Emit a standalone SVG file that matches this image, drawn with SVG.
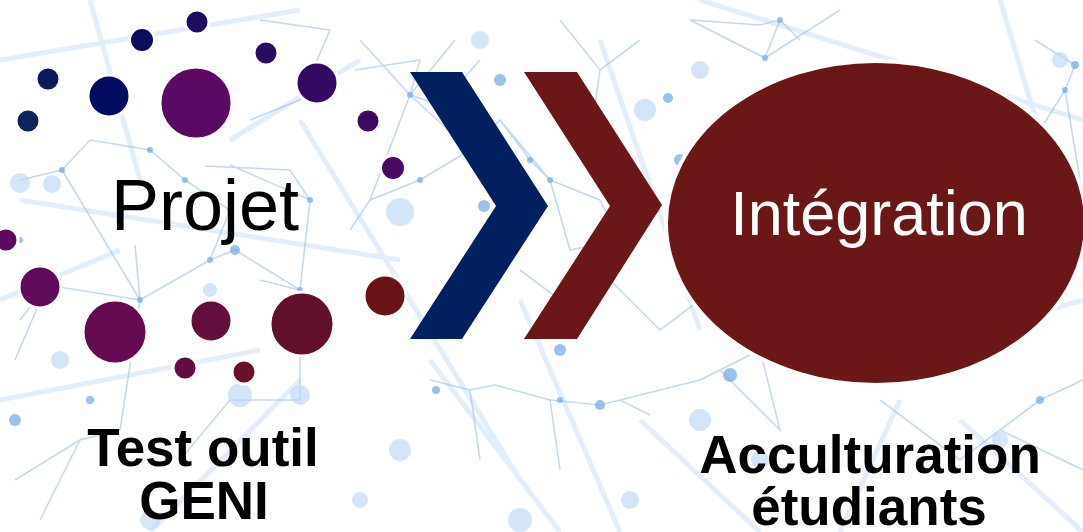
<svg xmlns="http://www.w3.org/2000/svg" width="1083" height="532" viewBox="0 0 1083 532">
<style>
.bgl{stroke:#8fbbe8;stroke-width:1.6;fill:none;opacity:0.55}
.bgw{stroke:#cfe2f6;stroke-width:5;fill:none;opacity:0.6}
.bgd{fill:#6fa9e6;opacity:0.7}
.bgb{fill:#b9d5f2;opacity:0.6}
.dot{stroke:#ffffff;stroke-width:3}
.lbl{font-family:"Liberation Sans",Arial,sans-serif;font-weight:bold;fill:#000000;text-anchor:middle}
</style>
<rect width="1083" height="532" fill="#ffffff"/>
<g id="background">
<g class="bgw">
<path d="M0 60 L300 10 M20 200 L400 260 M90 0 L140 180 M300 120 L520 480 M430 360 L560 532 M600 40 L700 330 M700 0 L1083 120 M820 380 L1083 300 M0 400 L260 350 M150 532 L300 380 M520 300 L620 532 M960 420 L1083 532 M230 140 L360 60 M1000 0 L1060 200 M0 300 L120 250 M640 420 L760 532 M840 532 L900 400"/>
</g>
<g class="bgl">
<path d="M62 170 L140 300 L47 285 L20 320 M140 300 L210 260 L235 250 L300 290 M90 140 L150 150 L185 180 L230 210 L210 260 M62 170 L90 140 M135 245 L140 300 L120 430 M205 166 L290 170 L310 200 L300 290 M230 165 L310 200 M260 280 L300 290 L300 400 M355 70 L420 60 L410 95 L440 105 L470 150 L420 180 L370 200 L350 230 M410 95 L470 150 M410 95 L370 200 M410 95 L360 40 M410 95 L455 40 M440 105 L480 60 M420 180 L470 150 L500 120 L530 160 L550 180 M500 120 L550 180 M550 180 L570 250 L620 240 L600 200 L550 180 M620 240 L660 210 M690 20 L765 58 L780 20 L760 25 L690 20 M765 58 L840 10 M780 20 L800 40 M1035 40 L1075 65 L1065 90 L1080 180 M1065 90 L1040 130 M1040 400 L1000 430 L1083 470 M1040 400 L1083 380 M430 380 L470 390 L495 385 L550 400 L600 405 L620 400 L650 415 M470 390 L480 460 M550 400 L560 470 M700 380 L720 370 L760 350 L780 430 L720 370 M620 400 L700 380 M40 520 L80 440 L15 480 M80 440 L120 430 M330 30 L300 100 L250 120 M260 20 L330 30 M880 400 L960 460 L1040 400 M560 20 L600 70 L640 40 M600 70 L590 140 M15 360 L47 285 M20 180 L62 170 M180 460 L230 400 L300 400 M600 270 L660 330 L700 300 M520 270 L560 300 L600 270"/>
</g>
<g class="bgb">
<circle cx="20" cy="183" r="10"/><circle cx="52" cy="184" r="9"/><circle cx="400" cy="212" r="14"/><circle cx="645" cy="110" r="11"/><circle cx="210" cy="290" r="7"/><circle cx="240" cy="395" r="12"/><circle cx="300" cy="395" r="10"/><circle cx="60" cy="360" r="9"/><circle cx="400" cy="450" r="11"/><circle cx="520" cy="520" r="12"/><circle cx="700" cy="420" r="11"/><circle cx="760" cy="460" r="9"/><circle cx="1000" cy="440" r="8"/><circle cx="980" cy="250" r="8"/><circle cx="480" cy="40" r="9"/><circle cx="150" cy="520" r="10"/><circle cx="360" cy="500" r="8"/><circle cx="630" cy="500" r="9"/><circle cx="1060" cy="60" r="8"/><circle cx="700" cy="70" r="9"/></g>
<g class="bgd">
<circle cx="62" cy="170" r="3"/><circle cx="140" cy="300" r="3"/><circle cx="47" cy="285" r="3"/><circle cx="210" cy="260" r="3"/><circle cx="235" cy="250" r="5"/><circle cx="300" cy="290" r="3"/><circle cx="150" cy="150" r="3"/><circle cx="185" cy="180" r="3"/><circle cx="230" cy="210" r="3"/><circle cx="310" cy="200" r="3"/><circle cx="410" cy="95" r="3"/><circle cx="470" cy="150" r="3"/><circle cx="420" cy="180" r="3"/><circle cx="500" cy="80" r="6"/><circle cx="530" cy="160" r="3"/><circle cx="550" cy="180" r="3"/><circle cx="620" cy="240" r="3"/><circle cx="484" cy="206" r="6"/><circle cx="765" cy="58" r="3"/><circle cx="780" cy="20" r="3"/><circle cx="1075" cy="65" r="4"/><circle cx="1065" cy="90" r="3"/><circle cx="1040" cy="400" r="4"/><circle cx="730" cy="375" r="7"/><circle cx="810" cy="370" r="5"/><circle cx="600" cy="405" r="5"/><circle cx="436" cy="390" r="4"/><circle cx="560" cy="400" r="3"/><circle cx="20" cy="240" r="3"/><circle cx="90" cy="400" r="4"/><circle cx="15" cy="420" r="6"/><circle cx="560" cy="350" r="6"/><circle cx="680" cy="160" r="6"/><circle cx="668" cy="98" r="5"/></g>
</g>
<g id="projet">
<circle class="dot" cx="197" cy="22" r="12" fill="#1c0c5c"/>
<circle class="dot" cx="142" cy="40" r="12.5" fill="#0c0c5c"/>
<circle class="dot" cx="48" cy="79" r="12" fill="#0e1a5a"/>
<circle class="dot" cx="28" cy="121" r="12" fill="#0c2258"/>
<circle class="dot" cx="109" cy="96" r="21" fill="#020c5e"/>
<circle class="dot" cx="196" cy="103" r="36" fill="#5a0a62"/>
<circle class="dot" cx="266" cy="53" r="12" fill="#2a0c62"/>
<circle class="dot" cx="317" cy="83" r="21" fill="#320a62"/>
<circle class="dot" cx="368" cy="121" r="12" fill="#3a0a60"/>
<circle class="dot" cx="393" cy="168" r="12.5" fill="#4a0a62"/>
<circle class="dot" cx="6" cy="240" r="12" fill="#5c0a60"/>
<circle class="dot" cx="40" cy="287" r="21" fill="#620a5a"/>
<circle class="dot" cx="115" cy="332" r="32" fill="#660a52"/>
<circle class="dot" cx="211" cy="321" r="21" fill="#640e3c"/>
<circle class="dot" cx="302" cy="324" r="32" fill="#62102c"/>
<circle class="dot" cx="385" cy="296" r="21" fill="#6a1418"/>
<circle class="dot" cx="185" cy="368" r="12" fill="#640c40"/>
<circle class="dot" cx="244" cy="372" r="12" fill="#6a1028"/>
<text x="205" y="230" font-family="Liberation Sans, Arial, sans-serif" font-size="72" fill="#000000" text-anchor="middle">Projet</text>
</g>
<g id="connectors">
<polygon points="410,72 462,72 548,206 462,339 410,339 496,206" fill="#002060"/>
<polygon points="524,72 577,72 662,205 577,339 524,339 610,206" fill="#6b1717"/>
</g>
<g id="integration">
<ellipse cx="876" cy="223" rx="210" ry="162" fill="#6b1717" stroke="#ffffff" stroke-width="4"/>
<text x="879" y="235" font-family="Liberation Sans, Arial, sans-serif" font-size="63" fill="#ffffff" text-anchor="middle">Intégration</text>
</g>
<g id="label-test">
<text class="lbl" x="203" y="466" font-size="53">Test outil</text>
<text class="lbl" x="204" y="519" font-size="53">GENI</text>
</g>
<g id="label-acculturation">
<text class="lbl" x="870" y="473" font-size="53">Acculturation</text>
<text class="lbl" x="869" y="525" font-size="53">étudiants</text>
</g>
</svg>
